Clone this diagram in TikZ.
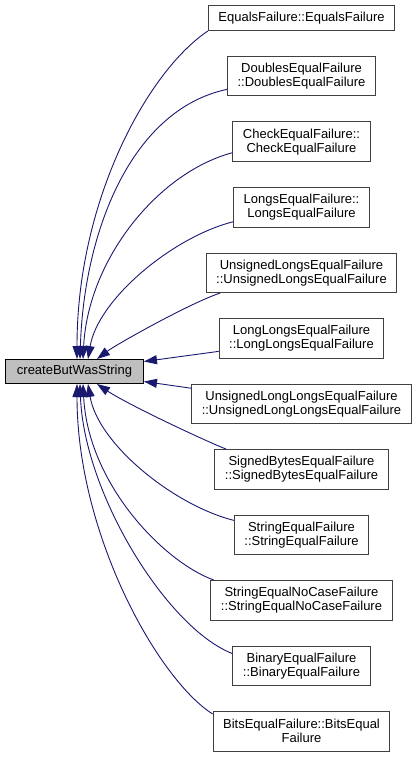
\documentclass[tikz,border=0pt]{standalone}
\usepackage{fontspec}
\setmainfont{Liberation Sans}
\usepackage{tikz}
\usetikzlibrary{positioning, arrows.meta}
\definecolor{midnightblue}{HTML}{191970}
\definecolor{grey25}{HTML}{404040}
\definecolor{grey75}{HTML}{BFBFBF}

\begin{document}
\begin{tikzpicture}[
    x=1pt, y=-1pt,
    node distance=25pt,
    every node/.style={font=\fontsize{13}{14}\selectfont},
    box/.style={draw=grey25, line width=1pt, fill=white, inner xsep=10pt, inner ysep=2pt,
                minimum height=39.5pt, align=center},
    callee/.style={draw=black, line width=1pt, fill=grey75, minimum width=138pt, minimum height=24pt},
    arrow/.style={-{Triangle[length=13pt, width=9pt]}, line width=0.9pt, midnightblue},
]
\useasboundingbox (0,0) rectangle (417,757);

% --- Called function (left) ---
\node[callee] (cbws) at (74.5,371.5) {createButWasString};

% --- Callers (right column) ---
\node[box, minimum height=25pt] (eqf) at (301.5,18) {EqualsFailure::EqualsFailure};
\node[box, below=of eqf]    (dblf)   {DoublesEqualFailure\\::DoublesEqualFailure};
\node[box, below=of dblf]   (chkf)   {CheckEqualFailure::\\CheckEqualFailure};
\node[box, below=of chkf]   (lngf)   {LongsEqualFailure::\\LongsEqualFailure};
\node[box, below=of lngf]   (ulngf)  {UnsignedLongsEqualFailure\\::UnsignedLongsEqualFailure};
\node[box, below=of ulngf]  (llngf)  {LongLongsEqualFailure\\::LongLongsEqualFailure};
\node[box, below=of llngf]  (ullngf) {UnsignedLongLongsEqualFailure\\::UnsignedLongLongsEqualFailure};
\node[box, below=of ullngf] (sbytf)  {SignedBytesEqualFailure\\::SignedBytesEqualFailure};
\node[box, below=of sbytf]  (strf)   {StringEqualFailure\\::StringEqualFailure};
\node[box, below=of strf]   (strncf) {StringEqualNoCaseFailure\\::StringEqualNoCaseFailure};
\node[box, below=of strncf] (binf)   {BinaryEqualFailure\\::BinaryEqualFailure};
\node[box, below=of binf]   (bitsf)  {BitsEqualFailure::BitsEqual\\Failure};

% --- Call edges ---
\draw[arrow] (eqf.south west) .. controls +(-60,40) and +(0,-159) .. ([xshift=2.5pt]cbws.north);
\draw[arrow] (dblf.190) .. controls +(-95,20) and +(4,-129) .. ([xshift=5.5pt]cbws.north);
\draw[arrow] (chkf.189) .. controls +(-75,20) and +(5,-99) .. ([xshift=8.5pt]cbws.north);
\draw[arrow] (lngf.192) .. controls +(-60,15) and +(10,-60) .. ([xshift=13.5pt]cbws.north);
\draw[arrow] (ulngf.194) .. controls +(-30,10) and +(20,-15) .. ([xshift=22.5pt]cbws.north);
\draw[arrow] (llngf.189) -- ([yshift=10pt]cbws.east);
\draw[arrow] (ullngf.172) -- ([yshift=-10pt]cbws.east);
\draw[arrow] (sbytf.165) .. controls +(-25,-10) and +(30,20) .. ([xshift=22.5pt]cbws.south);
\draw[arrow] (strf.168) .. controls +(-60,-15) and +(10,60) .. ([xshift=13.5pt]cbws.south);
\draw[arrow] (strncf.167) .. controls +(-50,-18) and +(5,100) .. ([xshift=8.5pt]cbws.south);
\draw[arrow] (binf.170) .. controls +(-65,-25) and +(4,110) .. ([xshift=5.5pt]cbws.south);
\draw[arrow] (bitsf.169) .. controls +(-55,-35) and +(0,150) .. ([xshift=2.5pt]cbws.south);
\end{tikzpicture}
\end{document}
